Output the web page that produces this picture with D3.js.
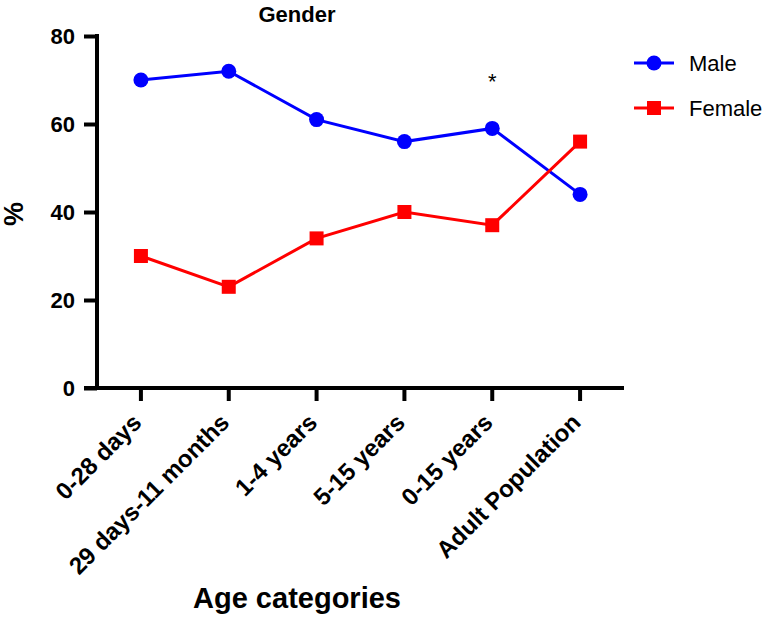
<!DOCTYPE html>
<html>
<head>
<meta charset="utf-8">
<script src="https://cdn.jsdelivr.net/npm/d3@7"></script>
<style>
  body { margin: 0; background: #fff; }
  text { font-family: "Liberation Sans", Arial, sans-serif; }
</style>
</head>
<body>
<svg id="chart" width="774" height="618"></svg>
<script>
var categories = ["0-28 days", "29 days-11 months", "1-4 years", "5-15 years", "0-15 years", "Adult Population"];
var maleValues = [70, 72, 61, 56, 59, 44];
var femaleValues = [30, 23, 34, 40, 37, 56];
var yTicks = [0, 20, 40, 60, 80];

var plotLeft = 97, plotRight = 624, plotTop = 36, plotBottom = 388;

var svg = d3.select("#chart");

var xScale = d3.scaleBand()
    .domain(categories)
    .range([plotLeft, plotRight]);

var yScale = d3.scaleLinear()
    .domain([0, 80])
    .range([plotBottom, plotTop]);

function xc(i) {
    return xScale(categories[i]) + xScale.bandwidth() / 2;
}

// axes
var yAxis = svg.append("g")
    .attr("transform", "translate(" + plotLeft + ",0)")
    .call(d3.axisLeft(yScale).tickValues(yTicks).tickSize(13).tickPadding(9).tickSizeOuter(0));
yAxis.select(".domain").attr("stroke-width", 4).attr("d", "M0," + (plotBottom + 2) + "V" + (plotTop - 2));
yAxis.selectAll(".tick line").attr("stroke-width", 4);
yAxis.selectAll(".tick text")
    .attr("font-size", 22)
    .attr("font-weight", "bold")
    .attr("fill", "#000")
    .attr("dy", "0.36em");

var xAxis = svg.append("g")
    .attr("transform", "translate(0," + plotBottom + ")")
    .call(d3.axisBottom(xScale).tickSize(13).tickSizeOuter(0));
xAxis.select(".domain").attr("stroke-width", 4).attr("d", "M" + (plotLeft - 13) + ",0H" + plotRight);
xAxis.selectAll(".tick line").attr("stroke-width", 4);
xAxis.selectAll(".tick text")
    .attr("font-size", 24)
    .attr("font-weight", "bold")
    .attr("fill", "#000")
    .attr("text-anchor", "end")
    .attr("y", 0)
    .attr("dy", 0)
    .attr("transform", "translate(2,36) rotate(-45)");

// lines
var line = d3.line()
    .x(function (d, i) { return xc(i); })
    .y(function (d) { return yScale(d); });

svg.append("path")
    .datum(maleValues)
    .attr("d", line)
    .attr("fill", "none")
    .attr("stroke", "#0000ff")
    .attr("stroke-width", 3);

svg.append("path")
    .datum(femaleValues)
    .attr("d", line)
    .attr("fill", "none")
    .attr("stroke", "#ff0000")
    .attr("stroke-width", 3);

svg.selectAll(".male-pt")
    .data(maleValues)
    .enter()
    .append("circle")
    .attr("cx", function (d, i) { return xc(i); })
    .attr("cy", function (d) { return yScale(d); })
    .attr("r", 7.5)
    .attr("fill", "#0000ff");

svg.selectAll(".female-pt")
    .data(femaleValues)
    .enter()
    .append("rect")
    .attr("x", function (d, i) { return xc(i) - 7; })
    .attr("y", function (d) { return yScale(d) - 7; })
    .attr("width", 14)
    .attr("height", 14)
    .attr("fill", "#ff0000");

// significance mark
svg.append("text")
    .attr("x", xc(4))
    .attr("y", 89)
    .attr("text-anchor", "middle")
    .attr("font-size", 22)
    .text("*");

// title and axis labels
svg.append("text")
    .attr("x", 297)
    .attr("y", 22)
    .attr("text-anchor", "middle")
    .attr("font-size", 22)
    .attr("font-weight", "bold")
    .text("Gender");

svg.append("text")
    .attr("transform", "translate(23,214) rotate(-90)")
    .attr("text-anchor", "middle")
    .attr("font-size", 27)
    .attr("font-weight", "bold")
    .text("%");

svg.append("text")
    .attr("x", 297)
    .attr("y", 608)
    .attr("text-anchor", "middle")
    .attr("font-size", 29)
    .attr("font-weight", "bold")
    .text("Age categories");

// legend
var legend = [
    { name: "Male", color: "#0000ff", shape: "circle", y: 63 },
    { name: "Female", color: "#ff0000", shape: "square", y: 108 }
];
legend.forEach(function (l) {
    var g = svg.append("g");
    g.append("line")
        .attr("x1", 634).attr("x2", 674)
        .attr("y1", l.y).attr("y2", l.y)
        .attr("stroke", l.color).attr("stroke-width", 3);
    if (l.shape === "circle") {
        g.append("circle").attr("cx", 654).attr("cy", l.y).attr("r", 7.5).attr("fill", l.color);
    } else {
        g.append("rect").attr("x", 647).attr("y", l.y - 7).attr("width", 14).attr("height", 14).attr("fill", l.color);
    }
    g.append("text")
        .attr("x", 689)
        .attr("y", l.y)
        .attr("dy", "0.36em")
        .attr("font-size", 22)
        .text(l.name);
});
</script>
</body>
</html>
